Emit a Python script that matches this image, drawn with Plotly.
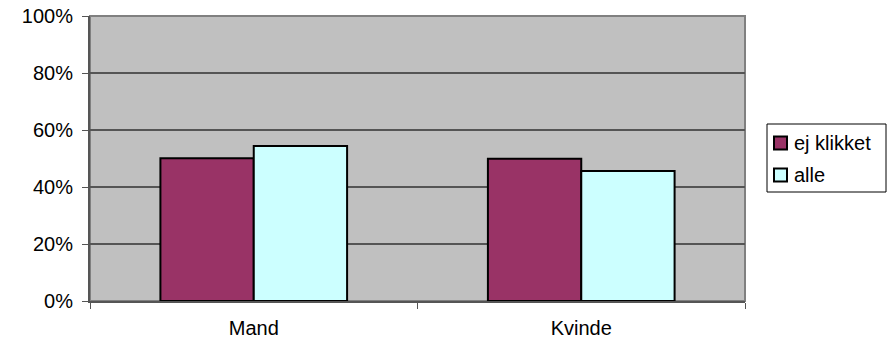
import plotly.graph_objects as go

categories = ["Mand", "Kvinde"]
series_names = ["ej klikket", "alle"]
ej_klikket = [0.501, 0.499]
alle = [0.544, 0.456]
colors = ["#993366", "#CCFFFF"]
y_ticks = [0, 0.2, 0.4, 0.6, 0.8, 1.0]

FONT = "Liberation Sans, Arial, sans-serif"
FS = 20
W, H = 895, 342
ML, MR, MT, MB = 90, 150, 16, 41
PW, PH = W - ML - MR, H - MT - MB


def px(x):
    return (x - ML) / PW


def py(y):
    return (H - MB - y) / PH


fig = go.Figure()
for name, vals, col in zip(series_names, [ej_klikket, alle], colors):
    fig.add_trace(go.Bar(
        x=categories, y=vals, name=name,
        marker=dict(color=col, line=dict(color="black", width=2)),
    ))

shapes = [dict(type="rect", xref="paper", yref="paper", x0=0, x1=1, y0=0, y1=1,
               line=dict(color="#808080", width=2), layer="below")]
annotations = []
# manual legend (box, swatches, labels)
shapes.append(dict(type="rect", xref="paper", yref="paper",
                   x0=px(767), x1=px(886), y0=py(192), y1=py(124),
                   line=dict(color="black", width=1), fillcolor="white"))
item_y = [143, 175]
for name, col, yc in zip(series_names, colors, item_y):
    shapes.append(dict(type="rect", xref="paper", yref="paper",
                       x0=px(774), x1=px(787), y0=py(yc + 6.5), y1=py(yc - 6.5),
                       line=dict(color="black", width=2), fillcolor=col))
    annotations.append(dict(xref="paper", yref="paper", x=px(792), y=py(yc),
                            xanchor="left", yanchor="middle", showarrow=False,
                            text=name, font=dict(family=FONT, size=FS, color="black")))

fig.update_layout(
    width=W, height=H,
    margin=dict(l=ML, r=MR, t=MT, b=MB, pad=0, autoexpand=False),
    paper_bgcolor="white",
    plot_bgcolor="#C0C0C0",
    barmode="group",
    bargap=0.43,
    bargroupgap=0,
    font=dict(family=FONT, size=FS, color="black"),
    showlegend=False,
    shapes=shapes,
    annotations=annotations,
)

fig.update_xaxes(
    automargin=False,
    showgrid=False,
    showline=True, linecolor="#555555", linewidth=2,
    ticks="outside", tickson="boundaries", ticklen=6, tickcolor="#555555", tickwidth=1,
    ticklabelstandoff=8,
    tickfont=dict(family=FONT, size=FS, color="black"),
)
fig.update_yaxes(
    automargin=False,
    range=[0, 1], tickvals=y_ticks, tickformat=".0%",
    showgrid=True, gridcolor="#555555", gridwidth=2,
    showline=True, linecolor="#555555", linewidth=2,
    ticks="outside", ticklen=6, tickcolor="#555555", tickwidth=1,
    ticklabelstandoff=5,
    tickfont=dict(family=FONT, size=FS, color="black"),
    zeroline=False,
)

fig.write_html("out.html", config={"displayModeBar": False},
               post_script="document.body.style.margin='0';")
